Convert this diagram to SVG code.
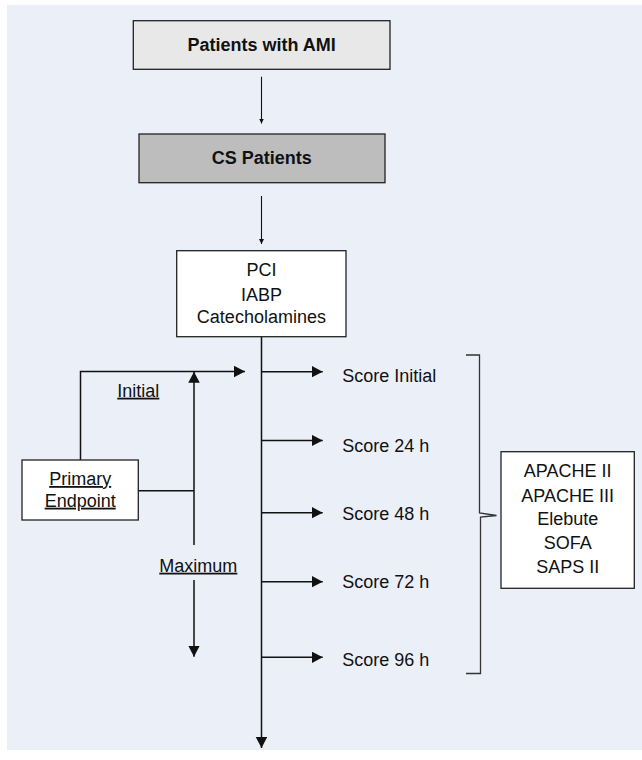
<svg xmlns="http://www.w3.org/2000/svg" width="642" height="760" viewBox="0 0 642 760">
<style>
.t{font-family:"Liberation Sans",Arial,sans-serif;font-size:18px;fill:#111;text-anchor:middle}
.b{font-weight:bold}
.l{text-anchor:start}
.u{text-decoration:underline}
.box{stroke:#222;stroke-width:1.3}
.c{fill:none;stroke:#111;stroke-width:1.5}
.thin{fill:none;stroke:#111;stroke-width:1.1}
</style>
<defs>
<marker id="big" markerUnits="userSpaceOnUse" markerWidth="12" markerHeight="12" refX="11" refY="5.75" orient="auto"><path d="M0,0 L11,5.75 L0,11.5 z" fill="#111"/></marker>
<marker id="small" markerUnits="userSpaceOnUse" markerWidth="6" markerHeight="6" refX="5" refY="2.5" orient="auto"><path d="M0,0 L5,2.5 L0,5 z" fill="#111"/></marker>
</defs>
<rect x="0" y="0" width="642" height="760" fill="#ffffff"/>
<rect x="7" y="5" width="635" height="745" fill="#ebeff8"/>
<g id="connectors">
<line class="thin" x1="261.5" y1="76.7" x2="261.5" y2="123.5" marker-end="url(#small)"/>
<line class="thin" x1="261.5" y1="196" x2="261.5" y2="244" marker-end="url(#small)"/>
<line class="c" x1="261.5" y1="336.7" x2="261.5" y2="748" marker-end="url(#big)"/>
<line class="c" x1="261.5" y1="371.7" x2="322.7" y2="371.7" marker-end="url(#big)"/>
<line class="c" x1="261.5" y1="440.5" x2="322.7" y2="440.5" marker-end="url(#big)"/>
<line class="c" x1="261.5" y1="512.7" x2="322.7" y2="512.7" marker-end="url(#big)"/>
<line class="c" x1="261.5" y1="581.7" x2="322.7" y2="581.7" marker-end="url(#big)"/>
<line class="c" x1="261.5" y1="657.3" x2="322.7" y2="657.3" marker-end="url(#big)"/>
<path class="c" d="M80.5,460 V371.5 H245" marker-end="url(#big)"/>
<path class="c" d="M138.3,490.7 H194"/>
<path class="c" d="M194,545 V371.7" marker-end="url(#big)"/>
<path class="c" d="M194,580 V656.7" marker-end="url(#big)"/>
<path d="M466,355 H479.5 V513 L496.5,515.5 L480.5,517 V673.5 H466" fill="none" stroke="#333" stroke-width="1.3"/>
</g>
<g id="patients-ami">
<rect class="box" x="133.3" y="20.7" width="256.7" height="48.6" fill="#e8e8e8"/>
<text class="t b" x="261.7" y="50.7">Patients with AMI</text>
</g>
<g id="cs-patients">
<rect class="box" x="139" y="134" width="246" height="48.7" fill="#bdbdbd"/>
<text class="t b" x="261.7" y="164">CS Patients</text>
</g>
<g id="treatment">
<rect class="box" x="176.7" y="250.7" width="169.3" height="86" fill="#ffffff"/>
<text class="t" x="261.4" y="276">PCI</text>
<text class="t" x="261.4" y="300.5">IABP</text>
<text class="t" x="261.4" y="323.3">Catecholamines</text>
</g>
<g id="primary-endpoint">
<rect class="box" x="22" y="460" width="116.3" height="60" fill="#ffffff"/>
<text class="t u" x="80.2" y="485">Primary</text>
<text class="t u" x="80.2" y="506.7">Endpoint</text>
</g>
<g id="label-initial"><text class="t u" x="138.3" y="396.7">Initial</text></g>
<g id="label-maximum"><text class="t u" x="198.3" y="571.7">Maximum</text></g>
<g id="score-initial"><text class="t l" x="342.3" y="381.7">Score Initial</text></g>
<g id="score-24"><text class="t l" x="342.3" y="451.7">Score 24 h</text></g>
<g id="score-48"><text class="t l" x="342.3" y="520">Score 48 h</text></g>
<g id="score-72"><text class="t l" x="342.3" y="588.3">Score 72 h</text></g>
<g id="score-96"><text class="t l" x="342.3" y="665.7">Score 96 h</text></g>
<g id="scores-list">
<rect class="box" x="501" y="451.7" width="133.3" height="136.6" fill="#ffffff"/>
<text class="t" x="567.7" y="476.7">APACHE II</text>
<text class="t" x="567.7" y="501.7">APACHE III</text>
<text class="t" x="567.7" y="525">Elebute</text>
<text class="t" x="567.7" y="549.3">SOFA</text>
<text class="t" x="567.7" y="573.3">SAPS II</text>
</g>
</svg>
